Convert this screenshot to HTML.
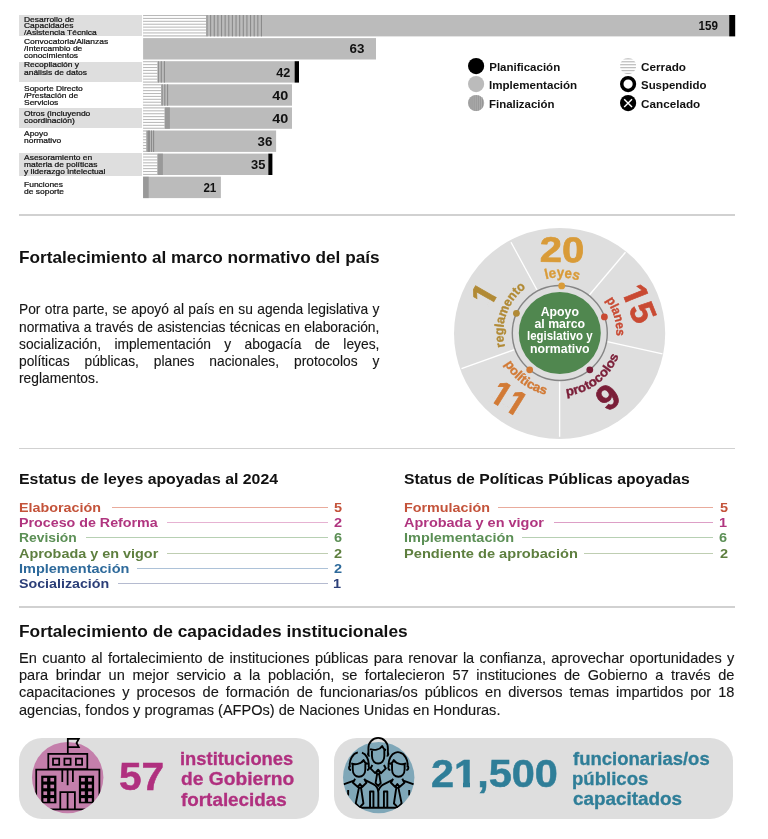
<!DOCTYPE html>
<html lang="es"><head><meta charset="utf-8"><title>Fortalecimiento al marco normativo del país</title><style>
html,body{margin:0;padding:0;background:#fff;}
body{width:768px;height:839px;position:relative;overflow:hidden;font-family:"Liberation Sans", Arial, Helvetica, sans-serif;}
#page{position:absolute;left:0;top:0;width:768px;height:839px;will-change:transform;}
.t{position:absolute;white-space:pre;line-height:1;display:block;}
.lab{-webkit-text-stroke:0.22px #111;}
.r{position:absolute;}
.abs{position:absolute;overflow:visible;}
.p{position:absolute;line-height:1;color:#161616;white-space:nowrap;-webkit-text-stroke:0.12px #161616;}
</style></head><body>
<div id="page">
<div class="r" style="left:19.30px;top:15.30px;width:122.50px;height:20.50px;background:#dedede;"></div>
<div class="r" style="left:19.30px;top:61.50px;width:122.50px;height:20.50px;background:#dedede;"></div>
<div class="r" style="left:19.30px;top:107.70px;width:122.50px;height:20.50px;background:#dedede;"></div>
<div class="r" style="left:19.30px;top:152.50px;width:122.50px;height:23.20px;background:#dedede;"></div>
<svg class="abs" style="left:0;top:0" width="768" height="210" viewBox="0 0 768 210"><rect x="143.1" y="15.00" width="586.10" height="21.4" fill="#bbbbbb"/><rect x="143.1" y="15.00" width="63.10" height="21.4" fill="#fff"/><rect x="143.1" y="15.00" width="63.10" height="1.05" fill="#b9b9b9"/><rect x="143.1" y="17.90" width="63.10" height="1.05" fill="#b9b9b9"/><rect x="143.1" y="20.80" width="63.10" height="1.05" fill="#b9b9b9"/><rect x="143.1" y="23.70" width="63.10" height="1.05" fill="#b9b9b9"/><rect x="143.1" y="26.60" width="63.10" height="1.05" fill="#b9b9b9"/><rect x="143.1" y="29.50" width="63.10" height="1.05" fill="#b9b9b9"/><rect x="143.1" y="32.40" width="63.10" height="1.05" fill="#b9b9b9"/><rect x="143.1" y="35.30" width="63.10" height="1.05" fill="#b9b9b9"/><rect x="206.45" y="15.00" width="1.1" height="21.4" fill="#8b8b8b"/><rect x="210.08" y="15.00" width="1.1" height="21.4" fill="#8b8b8b"/><rect x="213.71" y="15.00" width="1.1" height="21.4" fill="#8b8b8b"/><rect x="217.34" y="15.00" width="1.1" height="21.4" fill="#8b8b8b"/><rect x="220.97" y="15.00" width="1.1" height="21.4" fill="#8b8b8b"/><rect x="224.60" y="15.00" width="1.1" height="21.4" fill="#8b8b8b"/><rect x="228.23" y="15.00" width="1.1" height="21.4" fill="#8b8b8b"/><rect x="231.86" y="15.00" width="1.1" height="21.4" fill="#8b8b8b"/><rect x="235.49" y="15.00" width="1.1" height="21.4" fill="#8b8b8b"/><rect x="239.12" y="15.00" width="1.1" height="21.4" fill="#8b8b8b"/><rect x="242.75" y="15.00" width="1.1" height="21.4" fill="#8b8b8b"/><rect x="246.38" y="15.00" width="1.1" height="21.4" fill="#8b8b8b"/><rect x="250.01" y="15.00" width="1.1" height="21.4" fill="#8b8b8b"/><rect x="253.64" y="15.00" width="1.1" height="21.4" fill="#8b8b8b"/><rect x="257.27" y="15.00" width="1.1" height="21.4" fill="#8b8b8b"/><rect x="260.90" y="15.00" width="1.1" height="21.4" fill="#8b8b8b"/><rect x="729.20" y="15.00" width="6.00" height="21.4" fill="#000"/><rect x="143.1" y="38.10" width="232.90" height="21.4" fill="#bbbbbb"/><rect x="143.1" y="61.20" width="151.50" height="21.4" fill="#bbbbbb"/><rect x="143.1" y="61.20" width="14.40" height="21.4" fill="#fff"/><rect x="143.1" y="61.20" width="14.40" height="1.05" fill="#b9b9b9"/><rect x="143.1" y="64.10" width="14.40" height="1.05" fill="#b9b9b9"/><rect x="143.1" y="67.00" width="14.40" height="1.05" fill="#b9b9b9"/><rect x="143.1" y="69.90" width="14.40" height="1.05" fill="#b9b9b9"/><rect x="143.1" y="72.80" width="14.40" height="1.05" fill="#b9b9b9"/><rect x="143.1" y="75.70" width="14.40" height="1.05" fill="#b9b9b9"/><rect x="143.1" y="78.60" width="14.40" height="1.05" fill="#b9b9b9"/><rect x="143.1" y="81.50" width="14.40" height="1.05" fill="#b9b9b9"/><rect x="157.75" y="61.20" width="1.1" height="21.4" fill="#8b8b8b"/><rect x="160.75" y="61.20" width="1.1" height="21.4" fill="#8b8b8b"/><rect x="163.85" y="61.20" width="1.1" height="21.4" fill="#8b8b8b"/><rect x="294.60" y="61.20" width="4.40" height="21.4" fill="#000"/><rect x="143.1" y="84.30" width="148.90" height="21.4" fill="#bbbbbb"/><rect x="143.1" y="84.30" width="18.00" height="21.4" fill="#fff"/><rect x="143.1" y="84.30" width="18.00" height="1.05" fill="#b9b9b9"/><rect x="143.1" y="87.20" width="18.00" height="1.05" fill="#b9b9b9"/><rect x="143.1" y="90.10" width="18.00" height="1.05" fill="#b9b9b9"/><rect x="143.1" y="93.00" width="18.00" height="1.05" fill="#b9b9b9"/><rect x="143.1" y="95.90" width="18.00" height="1.05" fill="#b9b9b9"/><rect x="143.1" y="98.80" width="18.00" height="1.05" fill="#b9b9b9"/><rect x="143.1" y="101.70" width="18.00" height="1.05" fill="#b9b9b9"/><rect x="143.1" y="104.60" width="18.00" height="1.05" fill="#b9b9b9"/><rect x="161.55" y="84.30" width="1.1" height="21.4" fill="#8b8b8b"/><rect x="164.25" y="84.30" width="1.1" height="21.4" fill="#8b8b8b"/><rect x="167.05" y="84.30" width="1.1" height="21.4" fill="#8b8b8b"/><rect x="143.1" y="107.40" width="148.90" height="21.4" fill="#bbbbbb"/><rect x="143.1" y="107.40" width="21.60" height="21.4" fill="#fff"/><rect x="143.1" y="107.40" width="21.60" height="1.05" fill="#b9b9b9"/><rect x="143.1" y="110.30" width="21.60" height="1.05" fill="#b9b9b9"/><rect x="143.1" y="113.20" width="21.60" height="1.05" fill="#b9b9b9"/><rect x="143.1" y="116.10" width="21.60" height="1.05" fill="#b9b9b9"/><rect x="143.1" y="119.00" width="21.60" height="1.05" fill="#b9b9b9"/><rect x="143.1" y="121.90" width="21.60" height="1.05" fill="#b9b9b9"/><rect x="143.1" y="124.80" width="21.60" height="1.05" fill="#b9b9b9"/><rect x="143.1" y="127.70" width="21.60" height="1.05" fill="#b9b9b9"/><rect x="164.70" y="107.40" width="5.20" height="21.4" fill="#999999"/><rect x="143.1" y="130.50" width="133.00" height="21.4" fill="#bbbbbb"/><rect x="143.1" y="130.50" width="3.40" height="21.4" fill="#fff"/><rect x="143.1" y="130.50" width="3.40" height="1.05" fill="#b9b9b9"/><rect x="143.1" y="133.40" width="3.40" height="1.05" fill="#b9b9b9"/><rect x="143.1" y="136.30" width="3.40" height="1.05" fill="#b9b9b9"/><rect x="143.1" y="139.20" width="3.40" height="1.05" fill="#b9b9b9"/><rect x="143.1" y="142.10" width="3.40" height="1.05" fill="#b9b9b9"/><rect x="143.1" y="145.00" width="3.40" height="1.05" fill="#b9b9b9"/><rect x="143.1" y="147.90" width="3.40" height="1.05" fill="#b9b9b9"/><rect x="143.1" y="150.80" width="3.40" height="1.05" fill="#b9b9b9"/><rect x="146.55" y="130.50" width="1.1" height="21.4" fill="#8b8b8b"/><rect x="148.05" y="130.50" width="1.1" height="21.4" fill="#8b8b8b"/><rect x="148.85" y="130.50" width="1.1" height="21.4" fill="#8b8b8b"/><rect x="150.95" y="130.50" width="1.1" height="21.4" fill="#8b8b8b"/><rect x="153.05" y="130.50" width="1.1" height="21.4" fill="#8b8b8b"/><rect x="143.1" y="153.60" width="125.20" height="21.4" fill="#bbbbbb"/><rect x="143.1" y="153.60" width="14.40" height="21.4" fill="#fff"/><rect x="143.1" y="153.60" width="14.40" height="1.05" fill="#b9b9b9"/><rect x="143.1" y="156.50" width="14.40" height="1.05" fill="#b9b9b9"/><rect x="143.1" y="159.40" width="14.40" height="1.05" fill="#b9b9b9"/><rect x="143.1" y="162.30" width="14.40" height="1.05" fill="#b9b9b9"/><rect x="143.1" y="165.20" width="14.40" height="1.05" fill="#b9b9b9"/><rect x="143.1" y="168.10" width="14.40" height="1.05" fill="#b9b9b9"/><rect x="143.1" y="171.00" width="14.40" height="1.05" fill="#b9b9b9"/><rect x="143.1" y="173.90" width="14.40" height="1.05" fill="#b9b9b9"/><rect x="157.50" y="153.60" width="5.40" height="21.4" fill="#999999"/><rect x="268.30" y="153.60" width="4.10" height="21.4" fill="#000"/><rect x="143.1" y="176.70" width="77.80" height="21.4" fill="#bbbbbb"/><rect x="143.10" y="176.70" width="5.60" height="21.4" fill="#999999"/></svg>
<span class="t " style="left:698.01px;top:20px;font-size:12.0px;color:#111;font-weight:700;transform:scaleX(0.9700);transform-origin:right center;">159</span>
<span class="t " style="left:351.44px;top:43px;font-size:12.0px;color:#111;font-weight:700;transform:scaleX(1.1143);transform-origin:right center;">63</span>
<span class="t " style="left:276.76px;top:67px;font-size:12.0px;color:#111;font-weight:700;transform:scaleX(1.0563);transform-origin:right center;">42</span>
<span class="t " style="left:274.74px;top:90px;font-size:12.0px;color:#111;font-weight:700;transform:scaleX(1.1993);transform-origin:right center;">40</span>
<span class="t " style="left:274.74px;top:113px;font-size:12.0px;color:#111;font-weight:700;transform:scaleX(1.1993);transform-origin:right center;">40</span>
<span class="t " style="left:259.13px;top:136px;font-size:12.0px;color:#111;font-weight:700;transform:scaleX(1.1077);transform-origin:right center;">36</span>
<span class="t " style="left:252.41px;top:159px;font-size:12.0px;color:#111;font-weight:700;transform:scaleX(1.0755);transform-origin:right center;">35</span>
<span class="t " style="left:202.98px;top:182px;font-size:12.0px;color:#111;font-weight:700;transform:scaleX(0.9700);transform-origin:right center;">21</span>
<span class="t lab" style="left:24.00px;top:16px;font-size:7.4px;color:#111;transform:scaleX(1.1450);transform-origin:left center;">Desarrollo de</span>
<span class="t lab" style="left:24.00px;top:22px;font-size:7.4px;color:#111;transform:scaleX(1.1450);transform-origin:left center;">Capacidades</span>
<span class="t lab" style="left:24.00px;top:29px;font-size:7.4px;color:#111;transform:scaleX(1.1450);transform-origin:left center;">/Asistencia Técnica</span>
<span class="t lab" style="left:24.00px;top:38px;font-size:7.4px;color:#111;transform:scaleX(1.1450);transform-origin:left center;">Convocatoria/Alianzas</span>
<span class="t lab" style="left:24.00px;top:45px;font-size:7.4px;color:#111;transform:scaleX(1.1450);transform-origin:left center;">/Intercambio de</span>
<span class="t lab" style="left:24.00px;top:52px;font-size:7.4px;color:#111;transform:scaleX(1.1450);transform-origin:left center;">conocimientos</span>
<span class="t lab" style="left:24.00px;top:61px;font-size:7.4px;color:#111;transform:scaleX(1.1450);transform-origin:left center;">Recopilación y</span>
<span class="t lab" style="left:24.00px;top:69px;font-size:7.4px;color:#111;transform:scaleX(1.1450);transform-origin:left center;">análisis de datos</span>
<span class="t lab" style="left:24.00px;top:85px;font-size:7.4px;color:#111;transform:scaleX(1.1450);transform-origin:left center;">Soporte Directo</span>
<span class="t lab" style="left:24.00px;top:92px;font-size:7.4px;color:#111;transform:scaleX(1.1450);transform-origin:left center;">/Prestación de</span>
<span class="t lab" style="left:24.00px;top:99px;font-size:7.4px;color:#111;transform:scaleX(1.1450);transform-origin:left center;">Servicios</span>
<span class="t lab" style="left:24.00px;top:110px;font-size:7.4px;color:#111;transform:scaleX(1.1450);transform-origin:left center;">Otros (incluyendo</span>
<span class="t lab" style="left:24.00px;top:117px;font-size:7.4px;color:#111;transform:scaleX(1.1450);transform-origin:left center;">coordinación)</span>
<span class="t lab" style="left:24.00px;top:130px;font-size:7.4px;color:#111;transform:scaleX(1.1450);transform-origin:left center;">Apoyo</span>
<span class="t lab" style="left:24.00px;top:137px;font-size:7.4px;color:#111;transform:scaleX(1.1450);transform-origin:left center;">normativo</span>
<span class="t lab" style="left:24.00px;top:154px;font-size:7.4px;color:#111;transform:scaleX(1.1450);transform-origin:left center;">Asesoramiento en</span>
<span class="t lab" style="left:24.00px;top:161px;font-size:7.4px;color:#111;transform:scaleX(1.1450);transform-origin:left center;">materia de políticas</span>
<span class="t lab" style="left:24.00px;top:168px;font-size:7.4px;color:#111;transform:scaleX(1.1450);transform-origin:left center;">y liderazgo intelectual</span>
<span class="t lab" style="left:24.00px;top:181px;font-size:7.4px;color:#111;transform:scaleX(1.1450);transform-origin:left center;">Funciones</span>
<span class="t lab" style="left:24.00px;top:188px;font-size:7.4px;color:#111;transform:scaleX(1.1450);transform-origin:left center;">de soporte</span>
<svg class="abs" style="left:466.90px;top:57.00px" width="18.20" height="18.20" viewBox="-9.1 -9.1 18.2 18.2"><circle r="8.1" fill="#000"/></svg>
<svg class="abs" style="left:466.90px;top:75.20px" width="18.20" height="18.20" viewBox="-9.1 -9.1 18.2 18.2"><circle r="8.1" fill="#bbb"/></svg>
<svg class="abs" style="left:466.90px;top:93.55px" width="18.20" height="18.20" viewBox="-9.1 -9.1 18.2 18.2"><clipPath id="c1"><circle r="8.1"/></clipPath><g clip-path="url(#c1)"><rect x="-8.1" y="-8.1" width="16.2" height="16.2" fill="#b4b4b4"/><rect x="-7.50" y="-8.1" width="0.9" height="16.2" fill="#8e8e8e"/><rect x="-5.55" y="-8.1" width="0.9" height="16.2" fill="#8e8e8e"/><rect x="-3.60" y="-8.1" width="0.9" height="16.2" fill="#8e8e8e"/><rect x="-1.65" y="-8.1" width="0.9" height="16.2" fill="#8e8e8e"/><rect x="0.30" y="-8.1" width="0.9" height="16.2" fill="#8e8e8e"/><rect x="2.25" y="-8.1" width="0.9" height="16.2" fill="#8e8e8e"/><rect x="4.20" y="-8.1" width="0.9" height="16.2" fill="#8e8e8e"/><rect x="6.15" y="-8.1" width="0.9" height="16.2" fill="#8e8e8e"/><rect x="8.10" y="-8.1" width="0.9" height="16.2" fill="#8e8e8e"/></g></svg>
<svg class="abs" style="left:618.50px;top:57.00px" width="18.20" height="18.20" viewBox="-9.1 -9.1 18.2 18.2"><clipPath id="c2"><circle r="8.1"/></clipPath><g clip-path="url(#c2)"><rect x="-8.1" y="-8.1" width="16.2" height="16.2" fill="#fff"/><rect y="-7.90" x="-8.1" height="1.25" width="16.2" fill="#bebebe"/><rect y="-4.96" x="-8.1" height="1.25" width="16.2" fill="#bebebe"/><rect y="-2.02" x="-8.1" height="1.25" width="16.2" fill="#bebebe"/><rect y="0.92" x="-8.1" height="1.25" width="16.2" fill="#bebebe"/><rect y="3.86" x="-8.1" height="1.25" width="16.2" fill="#bebebe"/><rect y="6.80" x="-8.1" height="1.25" width="16.2" fill="#bebebe"/></g></svg>
<svg class="abs" style="left:618.50px;top:75.20px" width="18.20" height="18.20" viewBox="-9.1 -9.1 18.2 18.2"><circle r="6.35" fill="#fff" stroke="#000" stroke-width="3.5"/></svg>
<svg class="abs" style="left:618.50px;top:93.55px" width="18.20" height="18.20" viewBox="-9.1 -9.1 18.2 18.2"><circle r="8.1" fill="#000"/><path d="M-3.9 -3.9L3.9 3.9M3.9 -3.9L-3.9 3.9" stroke="#fff" stroke-width="1.45" stroke-linecap="butt"/></svg>
<span class="t " style="left:489.23px;top:62px;font-size:11.5px;color:#111;font-weight:700;">Planificación</span>
<span class="t " style="left:489.23px;top:80px;font-size:11.5px;color:#111;font-weight:700;transform:scaleX(1.0074);transform-origin:left center;">Implementación</span>
<span class="t " style="left:489.23px;top:99px;font-size:11.5px;color:#111;font-weight:700;transform:scaleX(0.9948);transform-origin:left center;">Finalización</span>
<span class="t " style="left:641.12px;top:62px;font-size:11.5px;color:#111;font-weight:700;transform:scaleX(1.0214);transform-origin:left center;">Cerrado</span>
<span class="t " style="left:641.27px;top:80px;font-size:11.5px;color:#111;font-weight:700;transform:scaleX(0.9950);transform-origin:left center;">Suspendido</span>
<span class="t " style="left:641.12px;top:99px;font-size:11.5px;color:#111;font-weight:700;transform:scaleX(1.0186);transform-origin:left center;">Cancelado</span>
<div class="r" style="left:19.00px;top:214.35px;width:716.00px;height:1.35px;background:#d1d1d1;"></div>
<div class="r" style="left:19.00px;top:447.65px;width:716.00px;height:1.35px;background:#d1d1d1;"></div>
<div class="r" style="left:19.00px;top:606.35px;width:716.00px;height:1.35px;background:#d1d1d1;"></div>
<span class="t " style="left:18.65px;top:249px;font-size:16.2px;color:#111;font-weight:700;transform:scaleX(1.0632);transform-origin:left center;">Fortalecimiento al marco normativo del país</span>
<div class="p" style="left:18.73px;top:303px;width:362.93px;font-size:13.9px;text-align:justify;text-align-last:justify;transform:scaleX(0.993);transform-origin:left center;">Por otra parte, se apoyó al país en su agenda legislativa y</div>
<div class="p" style="left:18.73px;top:321px;width:362.93px;font-size:13.9px;text-align:justify;text-align-last:justify;transform:scaleX(0.993);transform-origin:left center;">normativa a través de asistencias técnicas en elaboración,</div>
<div class="p" style="left:18.73px;top:338px;width:362.93px;font-size:13.9px;text-align:justify;text-align-last:justify;transform:scaleX(0.993);transform-origin:left center;">socialización, implementación y abogacía de leyes,</div>
<div class="p" style="left:18.73px;top:355px;width:362.93px;font-size:13.9px;text-align:justify;text-align-last:justify;transform:scaleX(0.993);transform-origin:left center;">políticas públicas, planes nacionales, protocolos y</div>
<div class="p" style="left:18.73px;top:372px;width:362.93px;font-size:13.9px;transform:scaleX(0.993);transform-origin:left center;">reglamentos.</div>
<svg class="abs" style="left:0;top:215px" width="768" height="233" viewBox="0 215 768 233">
<circle cx="559.6" cy="333.5" r="105.6" fill="#dedede"/>
<line x1="536.9" y1="289.8" x2="511.0" y2="242.2" stroke="#fff" stroke-width="1.35"/>
<line x1="589.4" y1="295.0" x2="625.5" y2="252.3" stroke="#fff" stroke-width="1.35"/>
<line x1="607.2" y1="341.6" x2="662.5" y2="353.8" stroke="#fff" stroke-width="1.35"/>
<line x1="559.6" y1="380.5" x2="559.6" y2="436.8" stroke="#fff" stroke-width="1.35"/>
<line x1="514.6" y1="349.6" x2="461.5" y2="368.6" stroke="#fff" stroke-width="1.35"/>
<circle cx="559.8" cy="333.0" r="47.5" fill="none" stroke="#858585" stroke-width="1.4"/>
<circle cx="559.8" cy="333.0" r="41.0" fill="#50874f"/>
<circle cx="561.7" cy="285.9" r="3.4" fill="#d99b38"/>
<circle cx="604.4" cy="316.9" r="3.4" fill="#c94a33"/>
<circle cx="589.8" cy="369.8" r="3.4" fill="#7a1e38"/>
<circle cx="529.7" cy="369.8" r="3.4" fill="#d27a35"/>
<circle cx="516.4" cy="313.3" r="3.4" fill="#b18a35"/>
<text x="559.8" y="316.00" text-anchor="middle" font-size="12.3" font-weight="700" fill="#fff" >Apoyo</text>
<text x="559.8" y="328.23" text-anchor="middle" font-size="12.3" font-weight="700" fill="#fff" >al marco</text>
<text x="559.8" y="340.46" text-anchor="middle" font-size="12.3" font-weight="700" fill="#fff" textLength="65.6" lengthAdjust="spacingAndGlyphs">legislativo y</text>
<text x="559.8" y="352.69" text-anchor="middle" font-size="12.3" font-weight="700" fill="#fff" >normativo</text>
<defs>
<path id="p_leyes" d="M545.78 279.20A55.6 55.6 0 0 1 578.45 280.62" fill="none"/>
<path id="p_planes" d="M605.80 300.19A56.5 56.5 0 0 1 616.22 335.96" fill="none"/>
<path id="p_reg" d="M504.98 346.67A56.5 56.5 0 0 1 525.80 287.88" fill="none"/>
<path id="p_prot" d="M566.41 395.85A63.2 63.2 0 0 0 618.80 355.65" fill="none"/>
<path id="p_pol" d="M504.52 363.64A63.2 63.2 0 0 0 545.58 394.58" fill="none"/>
</defs>
<text font-size="14.2" font-weight="700" fill="#d99b38" stroke="#d99b38" stroke-width="0.35" textLength="33.19" lengthAdjust="spacingAndGlyphs"><textPath href="#p_leyes" textLength="33.19" lengthAdjust="spacingAndGlyphs">leyes</textPath></text>
<text font-size="12.8" font-weight="700" fill="#c94a33" stroke="#c94a33" stroke-width="0.35" textLength="37.97" lengthAdjust="spacingAndGlyphs"><textPath href="#p_planes" textLength="37.97" lengthAdjust="spacingAndGlyphs">planes</textPath></text>
<text font-size="12.8" font-weight="700" fill="#b18a35" stroke="#b18a35" stroke-width="0.35" textLength="66.07" lengthAdjust="spacingAndGlyphs"><textPath href="#p_reg" textLength="66.07" lengthAdjust="spacingAndGlyphs">reglamento</textPath></text>
<text font-size="12.8" font-weight="700" fill="#7a1e38" stroke="#7a1e38" stroke-width="0.35" textLength="69.49" lengthAdjust="spacingAndGlyphs"><textPath href="#p_prot" textLength="69.49" lengthAdjust="spacingAndGlyphs">protocolos</textPath></text>
<text font-size="12.8" font-weight="700" fill="#d27a35" stroke="#d27a35" stroke-width="0.35" textLength="52.95" lengthAdjust="spacingAndGlyphs"><textPath href="#p_pol" textLength="52.95" lengthAdjust="spacingAndGlyphs">políticas</textPath></text>
<g transform="translate(562.0 249.7) rotate(0.4) scale(1.118 1)"><text y="12.25" text-anchor="middle" font-size="35.6" font-weight="700" fill="#d99b38" stroke="#d99b38" stroke-width="0.7" style="font-kerning:none">20</text></g>
<g transform="translate(639.2 303.6) rotate(68) scale(1.0 1)"><text y="11.87" text-anchor="middle" font-size="34.5" font-weight="700" fill="#c94a33" stroke="#c94a33" stroke-width="0.7" style="font-kerning:none">15</text><rect x="-18.22" y="7.45" width="6.63" height="5.72" fill="#dedede"/><rect x="-5.95" y="7.45" width="6.64" height="5.72" fill="#dedede"/></g>
<g transform="translate(607.9 397.3) rotate(-38) scale(1.05 1)"><text y="11.87" text-anchor="middle" font-size="34.5" font-weight="700" fill="#7a1e38" stroke="#7a1e38" stroke-width="0.7" style="font-kerning:none">9</text></g>
<g transform="translate(509.0 398.5) rotate(32) scale(0.92 1)"><text y="11.87" text-anchor="middle" font-size="34.5" font-weight="700" fill="#d27a35" stroke="#d27a35" stroke-width="0.7" style="font-kerning:none">11</text><rect x="-18.22" y="7.45" width="6.63" height="5.72" fill="#dedede"/><rect x="-5.95" y="7.45" width="6.64" height="5.72" fill="#dedede"/><rect x="0.97" y="7.45" width="6.63" height="5.72" fill="#dedede"/><rect x="13.24" y="7.45" width="6.64" height="5.72" fill="#dedede"/></g>
<g transform="translate(484.3 294.4) rotate(-60) scale(1.0 1)"><text y="11.87" text-anchor="middle" font-size="34.5" font-weight="700" fill="#b18a35" stroke="#b18a35" stroke-width="0.7" style="font-kerning:none">1</text><rect x="-8.62" y="7.45" width="6.63" height="5.72" fill="#dedede"/><rect x="3.64" y="7.45" width="6.64" height="5.72" fill="#dedede"/></g>
</svg>
<span class="t " style="left:18.64px;top:471px;font-size:15.1px;color:#111;font-weight:700;transform:scaleX(1.0501);transform-origin:left center;">Estatus de leyes apoyadas al 2024</span>
<span class="t " style="left:404.35px;top:471px;font-size:15.1px;color:#111;font-weight:700;transform:scaleX(1.0418);transform-origin:left center;">Status de Políticas Públicas apoyadas</span>
<span class="t " style="left:18.54px;top:501px;font-size:13.2px;color:#c4533a;font-weight:700;transform:scaleX(1.0860);transform-origin:left center;">Elaboración</span>
<div class="r" style="left:111.90px;top:507.05px;width:215.70px;height:1.00px;background:#e9ab9c;"></div>
<span class="t " style="left:333.85px;top:501px;font-size:13.2px;color:#c4533a;font-weight:700;transform:scaleX(1.1000);transform-origin:left center;">5</span>
<span class="t " style="left:18.54px;top:516px;font-size:13.2px;color:#b0357f;font-weight:700;transform:scaleX(1.0817);transform-origin:left center;">Proceso de Reforma</span>
<div class="r" style="left:167.40px;top:522.25px;width:160.20px;height:1.00px;background:#e6b2d2;"></div>
<span class="t " style="left:333.80px;top:516px;font-size:13.2px;color:#b0357f;font-weight:700;transform:scaleX(1.1000);transform-origin:left center;">2</span>
<span class="t " style="left:18.57px;top:531px;font-size:13.2px;color:#5b8f55;font-weight:700;transform:scaleX(1.0503);transform-origin:left center;">Revisión</span>
<div class="r" style="left:85.90px;top:537.45px;width:241.70px;height:1.00px;background:#b7d0b3;"></div>
<span class="t " style="left:333.77px;top:531px;font-size:13.2px;color:#5b8f55;font-weight:700;transform:scaleX(1.1000);transform-origin:left center;">6</span>
<span class="t " style="left:19.14px;top:547px;font-size:13.2px;color:#5e7f3f;font-weight:700;transform:scaleX(1.0921);transform-origin:left center;">Aprobada y en vigor</span>
<div class="r" style="left:167.40px;top:552.65px;width:160.20px;height:1.00px;background:#bfceb2;"></div>
<span class="t " style="left:333.80px;top:547px;font-size:13.2px;color:#5e7f3f;font-weight:700;transform:scaleX(1.1000);transform-origin:left center;">2</span>
<span class="t " style="left:18.53px;top:562px;font-size:13.2px;color:#2e6a9b;font-weight:700;transform:scaleX(1.0993);transform-origin:left center;">Implementación</span>
<div class="r" style="left:136.70px;top:567.85px;width:190.90px;height:1.00px;background:#adc2d8;"></div>
<span class="t " style="left:333.80px;top:562px;font-size:13.2px;color:#2e6a9b;font-weight:700;transform:scaleX(1.1000);transform-origin:left center;">2</span>
<span class="t " style="left:19.09px;top:577px;font-size:13.2px;color:#2b3e78;font-weight:700;transform:scaleX(1.0797);transform-origin:left center;">Socialización</span>
<div class="r" style="left:118.40px;top:583.05px;width:209.20px;height:1.00px;background:#b5bbd0;"></div>
<span class="t " style="left:333.39px;top:577px;font-size:13.2px;color:#2b3e78;font-weight:700;transform:scaleX(1.1000);transform-origin:left center;">1</span>
<span class="t " style="left:403.84px;top:501px;font-size:13.2px;color:#c4533a;font-weight:700;transform:scaleX(1.0864);transform-origin:left center;">Formulación</span>
<div class="r" style="left:498.10px;top:507.05px;width:215.20px;height:1.00px;background:#e9ab9c;"></div>
<span class="t " style="left:719.55px;top:501px;font-size:13.2px;color:#c4533a;font-weight:700;transform:scaleX(1.1000);transform-origin:left center;">5</span>
<span class="t " style="left:404.44px;top:516px;font-size:13.2px;color:#b0357f;font-weight:700;transform:scaleX(1.0968);transform-origin:left center;">Aprobada y en vigor</span>
<div class="r" style="left:553.60px;top:522.25px;width:159.70px;height:1.00px;background:#dd9fc6;"></div>
<span class="t " style="left:719.09px;top:516px;font-size:13.2px;color:#b0357f;font-weight:700;transform:scaleX(1.1000);transform-origin:left center;">1</span>
<span class="t " style="left:403.83px;top:531px;font-size:13.2px;color:#5b8f55;font-weight:700;transform:scaleX(1.0973);transform-origin:left center;">Implementación</span>
<div class="r" style="left:521.50px;top:537.45px;width:191.80px;height:1.00px;background:#b7d0b3;"></div>
<span class="t " style="left:719.47px;top:531px;font-size:13.2px;color:#5b8f55;font-weight:700;transform:scaleX(1.1000);transform-origin:left center;">6</span>
<span class="t " style="left:403.82px;top:547px;font-size:13.2px;color:#5e7f3f;font-weight:700;transform:scaleX(1.1091);transform-origin:left center;">Pendiente de aprobación</span>
<div class="r" style="left:584.00px;top:552.65px;width:129.30px;height:1.00px;background:#bfceb2;"></div>
<span class="t " style="left:719.50px;top:547px;font-size:13.2px;color:#5e7f3f;font-weight:700;transform:scaleX(1.1000);transform-origin:left center;">2</span>
<span class="t " style="left:18.64px;top:624px;font-size:16.0px;color:#111;font-weight:700;transform:scaleX(1.0820);transform-origin:left center;">Fortalecimiento de capacidades institucionales</span>
<div class="p" style="left:18.68px;top:652px;width:682.62px;font-size:13.9px;text-align:justify;text-align-last:justify;transform:scaleX(1.048);transform-origin:left center;">En cuanto al fortalecimiento de instituciones públicas para renovar la confianza, aprovechar oportunidades y</div>
<div class="p" style="left:18.68px;top:669px;width:682.62px;font-size:13.9px;text-align:justify;text-align-last:justify;transform:scaleX(1.048);transform-origin:left center;">para brindar un mejor servicio a la población, se fortalecieron 57 instituciones de Gobierno a través de</div>
<div class="p" style="left:18.68px;top:686px;width:682.62px;font-size:13.9px;text-align:justify;text-align-last:justify;transform:scaleX(1.048);transform-origin:left center;">capacitaciones y procesos de formación de funcionarias/os públicos en diversos temas impartidos por 18</div>
<div class="p" style="left:18.68px;top:704px;width:682.62px;font-size:13.9px;transform:scaleX(1.048);transform-origin:left center;">agencias, fondos y programas (AFPOs) de Naciones Unidas en Honduras.</div>
<div class="r" style="left:19.40px;top:737.70px;width:299.80px;height:81.50px;background:#dedede;border-radius:23px;"></div>
<div class="r" style="left:333.70px;top:737.70px;width:399.60px;height:81.50px;background:#dedede;border-radius:23px;"></div>
<svg class="abs" style="left:0;top:730px" width="768" height="100" viewBox="0 730 768 100">
<circle cx="67.7" cy="777.6" r="35.7" fill="#c47fab"/>
<clipPath id="cb"><rect x="20" y="730" width="100" height="47.6"/><circle cx="67.7" cy="777.6" r="35.7"/></clipPath>
<g clip-path="url(#cb)"><g fill="none" stroke="#000" stroke-width="1.75" stroke-linejoin="miter"><path d="M67.8 754V738.8H78.8L76.5 743L78.8 747.2H67.8" /><rect x="48.3" y="753.9" width="39" height="15.2"/><rect x="53.0" y="758.6" width="6.2" height="6.2"/><rect x="64.4" y="758.6" width="6.2" height="6.2"/><rect x="75.9" y="758.6" width="6.2" height="6.2"/><path d="M36.2 815V769.6H99.4V815"/><path d="M40 809.4H96"/><path d="M62.3 769.6V782M67.6 769.6V785.2M72.9 769.6V782"/><path d="M60.3 809.4V792.2H74.9V809.4M67.6 792.2V809.4"/></g>
<rect x="41.2" y="775.7" width="15.2" height="27.6" fill="#000"/>
<rect x="43.40" y="777.90" width="3.7" height="3.6" fill="#c47fab"/>
<rect x="43.40" y="784.65" width="3.7" height="3.6" fill="#c47fab"/>
<rect x="43.40" y="791.40" width="3.7" height="3.6" fill="#c47fab"/>
<rect x="43.40" y="798.15" width="3.7" height="3.6" fill="#c47fab"/>
<rect x="50.40" y="777.90" width="3.7" height="3.6" fill="#c47fab"/>
<rect x="50.40" y="784.65" width="3.7" height="3.6" fill="#c47fab"/>
<rect x="50.40" y="791.40" width="3.7" height="3.6" fill="#c47fab"/>
<rect x="50.40" y="798.15" width="3.7" height="3.6" fill="#c47fab"/>
<rect x="78.9" y="775.7" width="15.2" height="27.6" fill="#000"/>
<rect x="81.10" y="777.90" width="3.7" height="3.6" fill="#c47fab"/>
<rect x="81.10" y="784.65" width="3.7" height="3.6" fill="#c47fab"/>
<rect x="81.10" y="791.40" width="3.7" height="3.6" fill="#c47fab"/>
<rect x="81.10" y="798.15" width="3.7" height="3.6" fill="#c47fab"/>
<rect x="88.10" y="777.90" width="3.7" height="3.6" fill="#c47fab"/>
<rect x="88.10" y="784.65" width="3.7" height="3.6" fill="#c47fab"/>
<rect x="88.10" y="791.40" width="3.7" height="3.6" fill="#c47fab"/>
<rect x="88.10" y="798.15" width="3.7" height="3.6" fill="#c47fab"/>
</g>
<circle cx="378.7" cy="777.6" r="35.7" fill="#7fa7b8"/>
<clipPath id="cp"><rect x="330" y="730" width="100" height="47.6"/><circle cx="378.7" cy="777.6" r="35.7"/></clipPath>
<g clip-path="url(#cp)" fill="none" stroke="#000" stroke-width="1.9" stroke-linejoin="round" stroke-linecap="butt">
<path transform="translate(338 733) scale(0.10677)" d="M285 215V142C285 86 326 46 376 46C426 46 467 86 467 142V215M318 168V215C318 260 345 286 376 286C407 286 434 260 434 215V160M300 150C338 166 392 160 414 122C422 142 436 156 450 160M290 182C276 186 278 216 296 216M462 182C476 186 474 216 456 216M322 300L304 332L348 376L376 344L404 376L448 332L430 300M360 366L376 352L392 366L386 386H366ZM366 386L352 470L376 496L400 470L386 386" vector-effect="non-scaling-stroke"/>
<path transform="translate(338 733) scale(0.10677)" d="M112 322C100 250 140 192 186 182M224 183C262 195 292 245 288 315M138 296V340C138 385 165 410 196 410C228 410 256 385 256 340V286M124 284C160 300 215 292 240 254C248 274 260 286 278 290M114 308C98 312 100 346 122 346M280 308C296 312 294 346 272 346M160 428L140 466L186 506L206 478L226 506L266 466L246 428M150 446L52 482M256 442L330 478C362 494 378 520 378 560V700M190 496L206 482L222 496L216 514H196ZM196 514L166 660L202 696L238 660L216 514M95 535V585M300 700V548H332V700" vector-effect="non-scaling-stroke"/>
<path transform="translate(338 733) scale(0.10677) translate(762 0) scale(-1 1)" d="M112 322C100 250 140 192 186 182M224 183C262 195 292 245 288 315M138 296V340C138 385 165 410 196 410C228 410 256 385 256 340V286M124 284C160 300 215 292 240 254C248 274 260 286 278 290M114 308C98 312 100 346 122 346M280 308C296 312 294 346 272 346M160 428L140 466L186 506L206 478L226 506L266 466L246 428M150 446L52 482M256 442L330 478C360 492 376 512 382 540M186 182C200 178 212 179 224 183M190 496L206 482L222 496L216 514H196ZM196 514L166 660L202 696L238 660L216 514M95 535V585M300 700V548H332V700" vector-effect="non-scaling-stroke"/>
<path transform="translate(338 733) scale(0.10677)" d="M200 700H562" vector-effect="non-scaling-stroke"/>
</g>
</svg>
<span class="t " style="left:119.05px;top:758px;font-size:38.0px;color:#b0307f;font-weight:700;transform:scaleX(1.0703);transform-origin:left center;-webkit-text-stroke:0.5px #b0307f;">57</span>
<span class="t " style="left:180.22px;top:750px;font-size:18px;color:#b0307f;font-weight:700;transform:scaleX(1.0200);transform-origin:left center;-webkit-text-stroke:0.3px #b0307f;">instituciones</span>
<span class="t " style="left:180.71px;top:770px;font-size:18px;color:#b0307f;font-weight:700;transform:scaleX(1.0673);transform-origin:left center;-webkit-text-stroke:0.3px #b0307f;">de Gobierno</span>
<span class="t " style="left:181.18px;top:791px;font-size:18px;color:#b0307f;font-weight:700;transform:scaleX(1.0471);transform-origin:left center;-webkit-text-stroke:0.3px #b0307f;">fortalecidas</span>
<span class="t " style="left:431.06px;top:755px;font-size:38.0px;color:#2f7e98;font-weight:700;transform:scaleX(1.0917);transform-origin:left center;-webkit-text-stroke:0.5px #2f7e98;font-kerning:none;">21,500</span>
<div class="r" style="left:455.55px;top:782.22px;width:7.92px;height:6.08px;background:#dedede;"></div>
<div class="r" style="left:469.86px;top:782.22px;width:7.39px;height:6.08px;background:#dedede;"></div>
<span class="t " style="left:572.98px;top:750px;font-size:18px;color:#2f7e98;font-weight:700;transform:scaleX(1.0274);transform-origin:left center;-webkit-text-stroke:0.3px #2f7e98;">funcionarias/os</span>
<span class="t " style="left:572.08px;top:770px;font-size:18px;color:#2f7e98;font-weight:700;transform:scaleX(1.0322);transform-origin:left center;-webkit-text-stroke:0.3px #2f7e98;">públicos</span>
<span class="t " style="left:572.56px;top:790px;font-size:18px;color:#2f7e98;font-weight:700;transform:scaleX(1.0487);transform-origin:left center;-webkit-text-stroke:0.3px #2f7e98;">capacitados</span>
</div>
</body></html>
